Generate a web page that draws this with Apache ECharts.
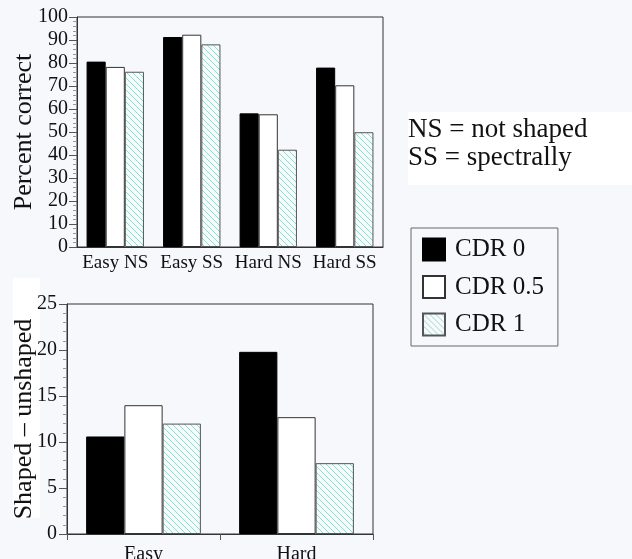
<!DOCTYPE html>
<html>
<head>
<meta charset="utf-8">
<script src="https://cdn.jsdelivr.net/npm/echarts@6/dist/echarts.min.js"></script>
<style>
html,body{margin:0;padding:0;background:#f7f8fc;}
#c{width:632px;height:559px;}
</style>
</head>
<body>
<div id="c"></div>
<script>
// ---- data ----
const conditions = ['Easy NS', 'Easy SS', 'Hard NS', 'Hard SS'];
const cdr0 = [80.6, 91.3, 58.1, 78.0];
const cdr05 = [78.3, 92.3, 57.7, 70.3];
const cdr1 = [76.2, 88.1, 42.3, 49.9];

const difficulty = ['Easy', 'Hard'];
const diff0 = [10.6, 19.8];
const diff05 = [14.0, 12.7];
const diff1 = [12.0, 7.7];

const seriesNames = ['CDR 0', 'CDR 0.5', 'CDR 1'];
const percentTicks = [0, 100, 10];
const diffTicks = [0, 25, 5];

// ---- hatch pattern ----
function makeHatch() {
  const s = 6;
  const cv = document.createElement('canvas');
  cv.width = s; cv.height = s;
  const ctx = cv.getContext('2d');
  ctx.fillStyle = '#f8fbfc';
  ctx.fillRect(0, 0, s, s);
  ctx.strokeStyle = '#93cfc5';
  ctx.lineWidth = 0.9;
  ctx.beginPath();
  ctx.moveTo(0, 0); ctx.lineTo(s, s);
  ctx.moveTo(-s, 0); ctx.lineTo(s, 2 * s);
  ctx.moveTo(0, -s); ctx.lineTo(2 * s, s);
  ctx.stroke();
  return cv;
}
const hatch = { image: makeHatch(), repeat: 'repeat' };

const FONT = "'Liberation Serif', 'DejaVu Serif', serif";
const styles = [
  { color: '#000000', borderColor: '#000000', borderWidth: 1 },
  { color: '#ffffff', borderColor: '#333333', borderWidth: 1 },
  { color: hatch, borderColor: '#555555', borderWidth: 1 }
];

const chart = echarts.init(document.getElementById('c'), null, { renderer: 'canvas' });

function yAxis(gridIndex, t, name, nameGap, margin) {
  return {
    type: 'value', gridIndex: gridIndex,
    min: t[0], max: t[1], interval: t[2],
    name: name, nameLocation: 'middle', nameGap: nameGap, nameMoveOverlap: false,
    nameTextStyle: { fontFamily: FONT, fontSize: 26, color: '#111' },
    axisLine: { show: true, lineStyle: { color: '#333', width: 1 } },
    axisTick: { show: true, length: 8, lineStyle: { color: '#555' } },
    minorTick: { show: true, splitNumber: 5, length: 4, lineStyle: { color: '#999' } },
    splitLine: { show: false },
    axisLabel: { fontFamily: FONT, fontSize: 20, color: '#111', margin: margin }
  };
}

const series = [];
[[cdr0, cdr05, cdr1], [diff0, diff05, diff1]].forEach(function (group, gi) {
  group.forEach(function (vals, si) {
    series.push({
      type: 'bar', name: seriesNames[si],
      xAxisIndex: gi, yAxisIndex: gi,
      data: vals,
      barGap: '0%', barCategoryGap: '25%',
      itemStyle: styles[si],
      emphasis: { disabled: true },
      animation: false
    });
  });
});

chart.setOption({
  backgroundColor: '#f7f8fc',
  animation: false,
  grid: [
    { left: 77, top: 17, width: 306, height: 230, outerBoundsMode: 'none', containLabel: false, show: true, borderColor: '#333', borderWidth: 1, backgroundColor: 'transparent' },
    { left: 67, top: 304, width: 306, height: 230, outerBoundsMode: 'none', containLabel: false, show: true, borderColor: '#333', borderWidth: 1, backgroundColor: 'transparent' }
  ],
  xAxis: [
    {
      type: 'category', gridIndex: 0, data: conditions,
      axisLine: { lineStyle: { color: '#333' } },
      axisTick: { show: false },
      axisLabel: { fontFamily: FONT, fontSize: 19, color: '#111', margin: 7, interval: 0 }
    },
    {
      type: 'category', gridIndex: 1, data: difficulty,
      axisLine: { lineStyle: { color: '#333' } },
      axisTick: { show: true, length: 6, lineStyle: { color: '#555' } },
      axisLabel: { fontFamily: FONT, fontSize: 20, color: '#111', margin: 11, interval: 0 }
    }
  ],
  yAxis: [
    yAxis(0, percentTicks, 'Percent correct', 40, 9),
    yAxis(1, diffTicks, 'Shaped \u2013 unshaped', 30, 10)
  ],
  legend: {
    data: seriesNames,
    orient: 'vertical',
    left: 411, top: 228,
    padding: [9, 14, 9, 11],
    itemWidth: 22, itemHeight: 22, itemGap: 12.5,
    icon: 'rect',
    borderColor: '#666', borderWidth: 1,
    backgroundColor: 'transparent',
    selectedMode: false,
    textStyle: { fontFamily: FONT, fontSize: 25, color: '#111', padding: [0, 0, 0, 5] }
  },
  graphic: [
    { type: 'rect', z: -10, shape: { x: 13, y: 278, width: 27, height: 240 }, style: { fill: '#ffffff' } },
    { type: 'rect', z: -10, shape: { x: 408, y: 112, width: 224, height: 73 }, style: { fill: '#ffffff' } },
    { type: 'text', left: 408, top: 116, style: { text: 'NS = not shaped', font: "27px 'Liberation Serif', serif", fill: '#111' } },
    { type: 'text', left: 408, top: 144, style: { text: 'SS = spectrally', font: "27px 'Liberation Serif', serif", fill: '#111' } }
  ],
  series: series
});
</script>
</body>
</html>
